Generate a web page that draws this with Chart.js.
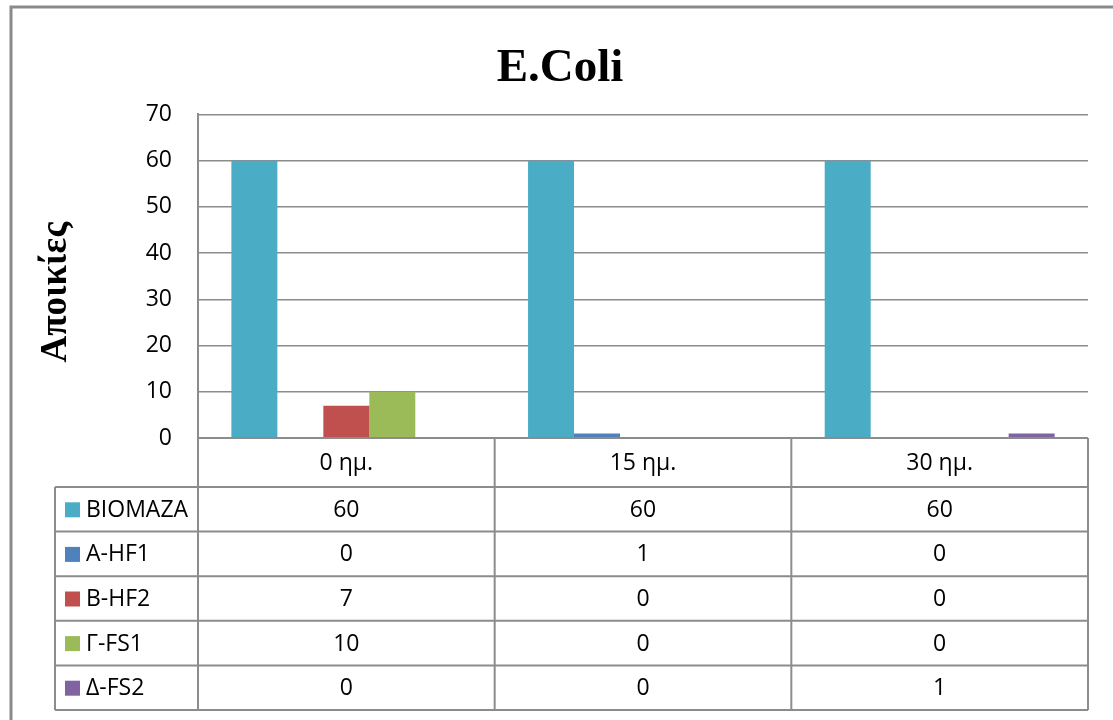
<!DOCTYPE html>
<html>
<head>
<meta charset="utf-8">
<script src="https://cdn.jsdelivr.net/npm/chart.js@4.4.1/dist/chart.umd.min.js"></script>
<style>
  html, body { margin: 0; padding: 0; background: #fff; }
  #wrap { position: relative; width: 1113px; height: 720px; }
</style>
</head>
<body>
<div id="wrap"><canvas id="ecoliChart"></canvas></div>
<script>
const days = ["0 ημ.", "15 ημ.", "30 ημ."];
const seriesNames = ["BIOMAZA", "A-HF1", "B-HF2", "Γ-FS1", "Δ-FS2"];
const biomaza = [60, 60, 60];
const aHf1 = [0, 1, 0];
const bHf2 = [7, 0, 0];
const gFs1 = [10, 0, 0];
const dFs2 = [0, 0, 1];
const seriesColors = ["#4BACC6", "#4F81BD", "#C0504D", "#9BBB59", "#8064A2"];
const yAxisTitle = "Αποικίες";

const lineGray = "#8c8c8c";
const labelFont = '23px "Open Sans"';

// Outer frame of the chart object, plus the rotated y-axis title
const framePlugin = {
  id: "frame",
  beforeDraw(chart) {
    const ctx = chart.ctx;
    ctx.save();
    ctx.strokeStyle = "#8a8a8a";
    ctx.lineWidth = 3;
    ctx.beginPath();
    ctx.moveTo(11, chart.height + 5);
    ctx.lineTo(11, 7);
    ctx.lineTo(chart.width + 5, 7);
    ctx.stroke();
    ctx.restore();
  },
  afterDraw(chart) {
    const ctx = chart.ctx;
    const area = chart.chartArea;
    ctx.save();
    ctx.translate(66, (area.top + area.bottom) / 2 + 16);
    ctx.rotate(-Math.PI / 2);
    ctx.font = 'bold 37px "Liberation Serif"';
    ctx.fillStyle = "#000";
    ctx.textAlign = "center";
    ctx.textBaseline = "alphabetic";
    ctx.fillText(yAxisTitle, 0, 0);
    ctx.restore();
  },
};

// Data table under the plot: header row with the days, one row per series
const dataTablePlugin = {
  id: "dataTable",
  afterDraw(chart) {
    const ctx = chart.ctx;
    const area = chart.chartArea;
    const x = chart.scales.x;
    const colW = (area.right - area.left) / days.length;
    const headTop = area.bottom;
    const headH = 49;
    const rowH = 44.6;
    const legendLeft = 55;
    const rowsTop = headTop + headH;
    const bottom = rowsTop + rowH * seriesNames.length;

    ctx.save();
    ctx.strokeStyle = lineGray;
    ctx.lineWidth = 2;
    ctx.beginPath();
    // vertical lines
    ctx.moveTo(area.left, headTop);
    ctx.lineTo(area.left, bottom);
    for (let i = 1; i <= days.length; i++) {
      const bx = area.left + colW * i;
      ctx.moveTo(bx, headTop);
      ctx.lineTo(bx, bottom);
    }
    ctx.moveTo(legendLeft, rowsTop);
    ctx.lineTo(legendLeft, bottom);
    // horizontal lines
    ctx.moveTo(area.left, headTop);
    ctx.lineTo(area.right, headTop);
    for (let r = 0; r <= seriesNames.length; r++) {
      const y = rowsTop + rowH * r;
      ctx.moveTo(legendLeft, y);
      ctx.lineTo(area.right, y);
    }
    ctx.stroke();

    ctx.font = labelFont;
    ctx.fillStyle = "#000";
    ctx.textBaseline = "middle";
    ctx.textAlign = "center";
    days.forEach((d, i) => {
      ctx.fillText(d, x.getPixelForValue(i), headTop + headH / 2 + 1);
    });

    chart.data.datasets.forEach((ds, r) => {
      const cy = rowsTop + rowH * r + rowH / 2;
      ctx.fillStyle = ds.backgroundColor;
      ctx.fillRect(legendLeft + 10, cy - 7, 15, 15);
      ctx.fillStyle = "#000";
      ctx.textAlign = "left";
      ctx.fillText(ds.label, legendLeft + 31, cy + 1);
      ctx.textAlign = "center";
      ds.data.forEach((v, i) => {
        ctx.fillText(String(v), x.getPixelForValue(i), cy + 1);
      });
    });
    ctx.restore();
  },
};

const seriesData = [biomaza, aHf1, bHf2, gFs1, dFs2];

new Chart(document.getElementById("ecoliChart"), {
  type: "bar",
  data: {
    labels: days,
    datasets: seriesNames.map((name, i) => ({
      label: name,
      data: seriesData[i],
      backgroundColor: seriesColors[i],
      borderWidth: 0,
      categoryPercentage: 0.775,
      barPercentage: 1,
    })),
  },
  options: {
    responsive: true,
    maintainAspectRatio: false,
    animation: false,
    layout: {
      padding: { left: 32, right: 25, top: 0, bottom: 282 },
    },
    scales: {
      x: {
        display: false,
      },
      y: {
        min: 0,
        max: 70,
        ticks: {
          stepSize: 10,
          color: "#000",
          font: { family: "Open Sans", size: 23 },
          padding: 26,
        },
        grid: {
          color: lineGray,
          lineWidth: 1.5,
          drawTicks: false,
        },
        border: { color: lineGray, width: 2 },
        afterFit(scale) {
          scale.width = 166;
        },
      },
    },
    plugins: {
      legend: { display: false },
      tooltip: { enabled: false },
      title: {
        display: true,
        text: "E.Coli",
        color: "#000",
        font: { family: "Liberation Serif", size: 47, weight: "bold" },
        padding: { top: 41, bottom: 17 },
      },
    },
  },
  plugins: [framePlugin, dataTablePlugin],
});
</script>
</body>
</html>
